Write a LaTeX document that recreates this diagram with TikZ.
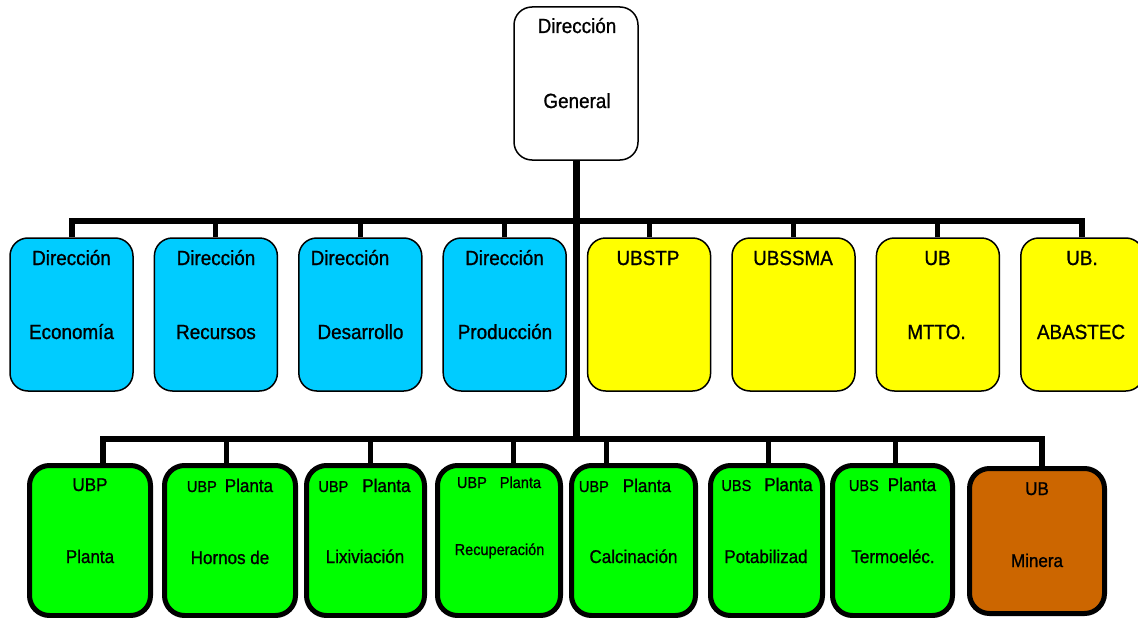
\documentclass[tikz,border=0pt]{standalone}
\usepackage{fontspec}
\setmainfont{Liberation Sans}[FakeStretch=0.92,FakeBold=1.0]
\usepackage{tikz}
\usepackage{xcolor}

\definecolor{dircyan}{HTML}{00CCFF}
\definecolor{ubyellow}{HTML}{FFFF00}
\definecolor{ubgreen}{HTML}{00FF00}
\definecolor{ubbrown}{HTML}{CC6600}

\newcommand{\upfont}{\fontsize{20.5}{24}\selectfont}
\newcommand{\lofont}{\fontsize{18.5}{22}\selectfont}
\newcommand{\smfont}{\fontsize{15.8}{19}\selectfont}

\begin{document}
\begin{tikzpicture}[x=1pt,y=-1pt,
    dbox/.style={rectangle, rounded corners=18pt, draw=black, line width=1.5pt, minimum width=123pt, minimum height=153pt, inner sep=0pt},
    gbox/.style={rectangle, rounded corners=20pt, draw=black, line width=5pt, minimum height=150pt, inner sep=0pt, fill=ubgreen},
    lab/.style={anchor=base, inner sep=0pt},
    bus/.style={line width=6pt},
    drop/.style={line width=5pt}]
          \useasboundingbox (0,0) rectangle (1138,618);
          % top
          \node[dbox, fill=white, minimum width=124pt] (DG) at (576,83.5) {};
          % upper row
          \node[dbox, fill=dircyan] (DE) at (71.5,314.5) {};
          \node[dbox, fill=dircyan] (DR) at (215.9,314.5) {};
          \node[dbox, fill=dircyan] (DD) at (360.3,314.5) {};
          \node[dbox, fill=dircyan] (DP) at (504.7,314.5) {};
          \node[dbox, fill=ubyellow] (ST) at (649.1,314.5) {};
          \node[dbox, fill=ubyellow] (SS) at (793.5,314.5) {};
          \node[dbox, fill=ubyellow] (MT) at (937.9,314.5) {};
          \node[dbox, fill=ubyellow] (AB) at (1082.3,314.5) {};
          % lower row
          \node[gbox, minimum width=121pt] (PL) at (90,540.5) {};
          \node[gbox, minimum width=131pt] (HO) at (230,540.5) {};
          \node[gbox, minimum width=118pt] (LX) at (365.5,540.5) {};
          \node[gbox, minimum width=123pt] (RC) at (499,540.5) {};
          \node[gbox, minimum width=124pt] (CA) at (633.5,540.5) {};
          \node[gbox, minimum width=112pt] (PO) at (766.5,540.5) {};
          \node[gbox, minimum width=120pt] (TE) at (892.5,540.5) {};
          \node[gbox, fill=ubbrown, minimum width=135pt, minimum height=145pt] (MI) at (1037,541) {};
          \coordinate (BU) at (576,221);
          \coordinate (BL) at (576,439);
          % connectors
          \draw[line width=7pt] (DG.south) -- (DG.south |- BL);
          \draw[bus] (DE.north) -- (DE.north |- BU) -- (AB.north |- BU) -- (AB.north);
          \foreach \n in {DR,DD,DP,ST,SS,MT}
            \draw[drop] (\n.north) -- (\n.north |- BU);
          \draw[bus] ([xshift=13pt]PL.north) -- ([xshift=13pt]PL.north |- BL) -- ([xshift=5pt]MI.north |- BL) -- ([xshift=5pt]MI.north);
          \draw[drop] ([xshift=-4pt]HO.north) -- ([xshift=-4pt]HO.north |- BL);
          \draw[drop] ([xshift=4.5pt]LX.north) -- ([xshift=4.5pt]LX.north |- BL);
          \draw[drop] ([xshift=14pt]RC.north) -- ([xshift=14pt]RC.north |- BL);
          \draw[drop] ([xshift=-27.5pt]CA.north) -- ([xshift=-27.5pt]CA.north |- BL);
          \draw[drop] ([xshift=1.5pt]PO.north) -- ([xshift=1.5pt]PO.north |- BL);
          \draw[drop] ([xshift=2.5pt]TE.north) -- ([xshift=2.5pt]TE.north |- BL);
          % labels
          \node[lab] (DGa) at (577,33) {\upfont Dirección};
          \node[lab] (DGb) at (577,108) {\upfont General};
          \node[lab] (DEa) at (71.5,265) {\upfont Dirección};
          \node[lab] (DEb) at (71.5,339) {\upfont Economía};
          \node[lab] (DRa) at (216,265) {\upfont Dirección};
          \node[lab] (DRb) at (216,339) {\upfont Recursos};
          \node[lab] (DDa) at (350,265) {\upfont Dirección};
          \node[lab] (DDb) at (360.5,339) {\upfont Desarrollo};
          \node[lab] (DPa) at (504.5,265) {\upfont Dirección};
          \node[lab] (DPb) at (505,339) {\upfont Producción};
          \node[lab] (STa) at (648,265) {\upfont UBSTP};
          \node[lab] (SSa) at (793,265) {\upfont UBSSMA};
          \node[lab] (MTa) at (937.5,265) {\upfont UB};
          \node[lab] (MTb) at (936.5,339) {\upfont MTTO.};
          \node[lab] (ABa) at (1082,265) {\upfont UB.};
          \node[lab] (ABb) at (1081,339) {\upfont ABASTEC};
          \node[lab] (PLa) at (90,491) {\lofont UBP};
          \node[lab] (PLb) at (90,563) {\lofont Planta};
          \node[lab] (HOa) at (230,492) {\smfont UBP\hspace{8pt}\lofont Planta};
          \node[lab] (HOb) at (230,564) {\lofont Hornos de};
          \node[lab] (LXa) at (364.5,492) {\smfont UBP\hspace{14pt}\lofont Planta};
          \node[lab] (LXb) at (365,563) {\lofont Lixiviación};
          \node[lab] (RCa) at (499,488) {\smfont UBP\hspace{13pt}Planta};
          \node[lab] (RCb) at (499.5,555) {\smfont Recuperación};
          \node[lab] (CAa) at (625,492) {\smfont UBP\hspace{14pt}\lofont Planta};
          \node[lab] (CAb) at (633.5,563) {\lofont Calcinación};
          \node[lab] (POa) at (767,491) {\smfont UBS\hspace{13pt}\lofont Planta};
          \node[lab] (POb) at (766,563) {\lofont Potabilizad};
          \node[lab] (TEa) at (892.5,491) {\smfont UBS\hspace{9pt}\lofont Planta};
          \node[lab] (TEb) at (893,563) {\lofont Termoeléc.};
          \node[lab] (MIa) at (1037,495) {\lofont UB};
          \node[lab] (MIb) at (1037,567) {\lofont Minera};
        \end{tikzpicture}
\end{document}
